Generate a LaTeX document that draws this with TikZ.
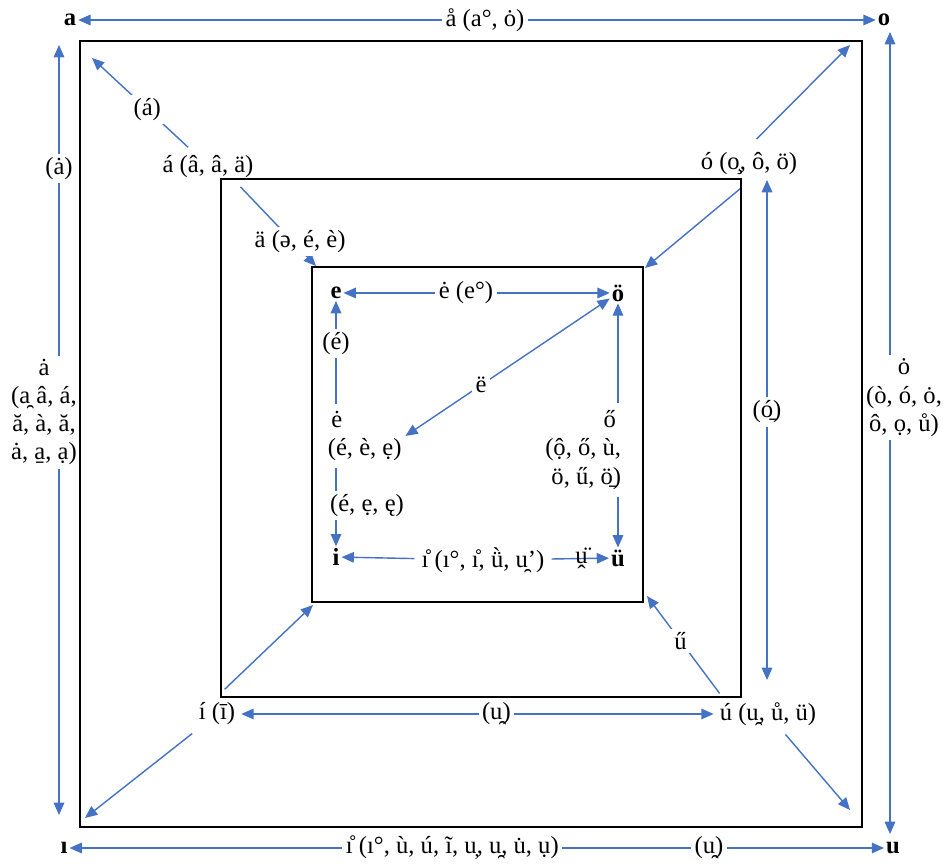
\documentclass[tikz,border=0pt]{standalone}
\usepackage{fontspec}
\setmainfont{Liberation Serif}
\usetikzlibrary{arrows.meta}
\definecolor{arrowblue}{RGB}{68,114,196}
\tikzset{
  box/.style={draw=black,line width=1.1pt},
  conn/.style={draw=arrowblue,line width=0.8pt,-{Triangle[length=7pt,width=6pt]},shorten <=2pt},
  both/.style={draw=arrowblue,line width=0.8pt,{Triangle[length=7pt,width=6pt]}-{Triangle[length=7pt,width=6pt]}},
  lbl/.style={fill=white,inner sep=2pt,align=center},
  vow/.style={font=\fontsize{14}{16}\selectfont\bfseries,inner sep=1pt}
}
\begin{document}
\begin{tikzpicture}[x=0.02cm,y=-0.02cm,font=\fontsize{14}{16}\selectfont]
\useasboundingbox (0,0) rectangle (944,864);
% outer corners
\node[vow] (a) at (70,20) {a};
\node[vow] (o) at (884,20) {o};
\node[vow] (ii) at (64,848) {ı};
\node[vow] (u) at (893,848) {u};
\coordinate (lt) at (59,45);
\coordinate (lb) at (59,815);
\coordinate (rt) at (890,32);
\coordinate (rb) at (890,834);
\coordinate (cTL) at (92,58);
\coordinate (cTR) at (850,45);
\coordinate (cBL) at (85,818);
\coordinate (cBR) at (850,810);
% middle corners
\node (aacute) at (208,167) {á (â, â, ä)};
\node (oacute) at (749,164) {ó (o̧, ô, ö)};
\node (iacute) at (217,714) {í (ī)};
\node (uacute) at (768,714) {ú (u̯, ů, ü)};
\coordinate (vt) at (767,180);
\coordinate (vb) at (767,680);
\coordinate (iTL) at (316,266);
\coordinate (iTR) at (645,268);
\coordinate (iBL) at (313,605);
\coordinate (iBR) at (647,596);
% inner corners
\node[vow] (e) at (336,293) {e};
\node[vow] (oo) at (618,293) {ö};
\node[vow] (i) at (336,557) {i};
\node[vow] (uu) at (618,558) {ü};
\node[lbl,align=left,anchor=west] (edot) at (324,436) {\kern2pt ė\\(é, è, ẹ)};
\node[lbl,align=right,anchor=east] (odbl) at (625,450) {ő\kern3pt\\(ộ, ő, ù,\\ö, ű, ö̱)};
\node[lbl] (ibot) at (483,560) {ı̊ (ı°, ı̊, ǜ, u̯ʼ)};

% outer arrows
\draw[both] (a) -- node[lbl,pos=.51] {å (a°, ȯ)} (o);
\draw[both] (ii) -- node[lbl,pos=.47] {ı̊ (ı°, ù, ú, ĩ, u̦, u̯, u̇, ụ)} node[lbl,pos=.785] {(u̯)} (u);
\draw[both] (lt) -- node[lbl,pos=.16] {(ȧ)} node[lbl,pos=.477,xshift=-.3cm] {ȧ\\(a̯ â, á,\\ă, à, ă,\\ȧ, a̱, ạ)} (lb);
\draw[both] (rt) -- node[lbl,pos=.456,xshift=.28cm] {ȯ\\(ò, ó, ȯ,\\ô, ọ, ů)} (rb);
% diagonals
\draw[conn] (aacute.135) -- node[lbl,pos=.44] {(á)} (cTL);
\draw[conn] (aacute.-30) -- node[lbl,pos=.7,xshift=.15cm] {ä (ə, é, è)} (iTL);
\draw[conn,shorten <=6pt] (oacute.north) -- (cTR);
\draw[conn,shorten <=6pt] (oacute.south) -- (iTR);
\draw[conn] (iacute) -- (cBL);
\draw[conn,shorten <=6pt] (iacute.north) -- (iBL);
\draw[conn] (uacute) -- (cBR);
\draw[conn] (uacute.159) -- node[lbl,pos=.55] {ű} (iBR);
% middle arrows
\draw[both] (vt) -- node[lbl,pos=.464] {(ó̱)} (vb);
\draw[both] (iacute) -- node[lbl,pos=.54] {(u̯)} (uacute);
% inner arrows
\draw[both] (e) -- node[lbl,pos=.46] {ė (e°)} (oo);
\draw[both] (edot.east) -- node[lbl,pos=.37] {ë} (oo);
\draw[conn] (edot.north -| e) -- node[lbl,pos=.6] {(é)} (e);
\draw[conn] (edot.south -| i) -- node[lbl,pos=.5,xshift=.62cm] {(é, ẹ, ę)} (i);
\draw[conn] (odbl.north -| oo) -- (oo);
\draw[conn] (odbl.south -| uu) -- (uu);
\draw[conn] (ibot) -- (i);
\draw[conn] (ibot) -- node[pos=.55] {ṷ̈} (uu);
% squares
\draw[box] (80,41) rectangle (862,827);
\draw[box] (221,179) rectangle (741,697);
\draw[box] (312,267) rectangle (643,602);
\end{tikzpicture}
\end{document}
